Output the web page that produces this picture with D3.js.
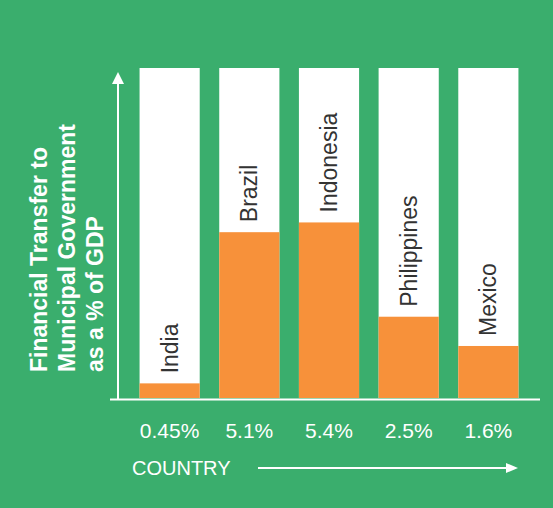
<!DOCTYPE html><html><head><meta charset="utf-8">
<script src="https://cdn.jsdelivr.net/npm/d3@7"></script>
<style>body{margin:0;background:#3aae6d}</style></head><body>
<script>
const countries=["India","Brazil","Indonesia","Philippines","Mexico"];
const values=[0.45,5.1,5.4,2.5,1.6];
const labels=["0.45%","5.1%","5.4%","2.5%","1.6%"];
const W=553,H=508,green="#3aae6d",orange="#f7913a";
const svg=d3.select("body").append("svg").attr("width",W).attr("height",H).style("font-family","Liberation Sans, Arial, sans-serif");
svg.append("rect").attr("width",W).attr("height",H).attr("fill",green);
const x=d3.scaleBand().domain(countries).range([130,528]).paddingInner(0.245).paddingOuter(0.12);
const y=d3.scaleLinear().domain([0,10.15]).range([398,68]);
const g=svg.selectAll("g.b").data(countries).enter().append("g");
g.append("rect").attr("x",d=>x(d)).attr("width",x.bandwidth()).attr("y",y(10.15)).attr("height",y(0)-y(10.15)).attr("fill","#fff");
g.append("rect").attr("x",d=>x(d)).attr("width",x.bandwidth()).attr("y",(d,i)=>y(values[i])).attr("height",(d,i)=>y(0)-y(values[i])).attr("fill",orange);
g.append("text").attr("transform",(d,i)=>`translate(${x(d)+x.bandwidth()/2+8},${y(values[i])-10}) rotate(-90)`).attr("font-size",23).attr("fill","#333").text(d=>d);
g.append("text").attr("x",d=>x(d)+x.bandwidth()/2).attr("y",438).attr("text-anchor","middle").attr("font-size",21).attr("fill","#fff").text((d,i)=>labels[i]);
svg.append("line").attr("x1",110).attr("x2",540).attr("y1",399.5).attr("y2",399.5).attr("stroke","#fff").attr("stroke-width",2);
svg.append("line").attr("x1",118).attr("x2",118).attr("y1",399).attr("y2",82).attr("stroke","#fff").attr("stroke-width",2);
svg.append("path").attr("d","M112,84 L118,72 L124,84 Z").attr("fill","#fff");
svg.append("text").attr("x",132).attr("y",475).attr("font-size",20).attr("fill","#fff").text("COUNTRY");
svg.append("line").attr("x1",258).attr("x2",508).attr("y1",468).attr("y2",468).attr("stroke","#fff").attr("stroke-width",2);
svg.append("path").attr("d","M506,463 L518,468 L506,473 Z").attr("fill","#fff");
["Financial Transfer to","Municipal Government","as a % of GDP"].forEach((s,i)=>{
 svg.append("text").attr("transform",`translate(${47+i*28},372) rotate(-90)`).attr("font-size",23).attr("font-weight","bold").attr("fill","#fff").text(s);
});
</script></body></html>
